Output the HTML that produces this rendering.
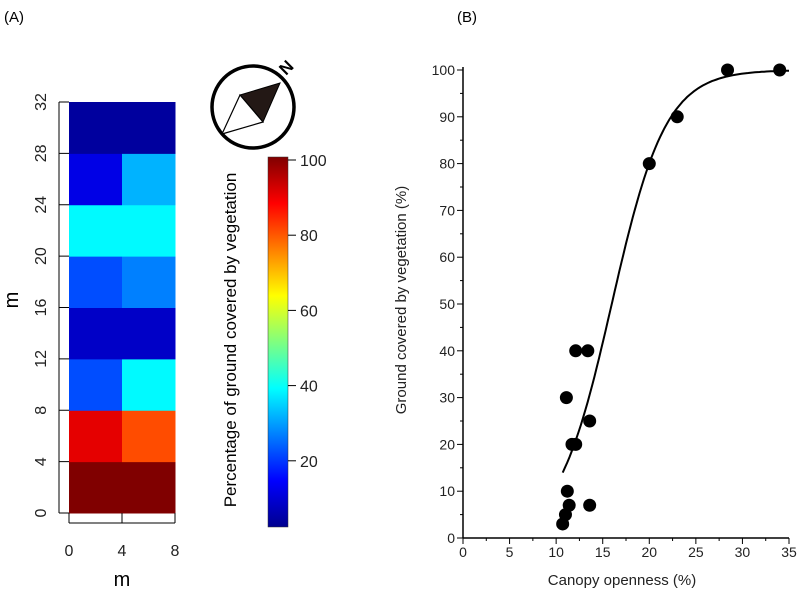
<!DOCTYPE html>
<html><head><meta charset="utf-8"><style>
body{margin:0;background:#fff}
svg{display:block;font-family:"Liberation Sans",sans-serif}
</style></head><body>
<svg width="800" height="596" viewBox="0 0 800 596">
<defs>
<linearGradient id="jet" x1="0" y1="1" x2="0" y2="0">
<stop offset="0" stop-color="#00008f"/><stop offset="0.125" stop-color="#0000ff"/><stop offset="0.375" stop-color="#00ffff"/><stop offset="0.625" stop-color="#ffff00"/><stop offset="0.875" stop-color="#ff0000"/><stop offset="1" stop-color="#800000"/>
</linearGradient>
</defs>
<text x="4" y="22" font-size="15">(A)</text>
<text x="457" y="22" font-size="15">(B)</text>
<g id="heat"></g>
<g id="compass">
<circle cx="253" cy="107" r="41" fill="none" stroke="#000" stroke-width="3.5"/>
<polygon points="280,83 240,95 263,122" fill="#231815" stroke="#000" stroke-width="1"/>
<polygon points="240,95 263,122 222,134" fill="#fff" stroke="#000" stroke-width="1.2"/>
<text x="0" y="0" font-size="17" font-weight="bold" transform="translate(286,76) rotate(-45)">N</text>
</g>
<rect x="268" y="157" width="20" height="370" fill="url(#jet)" stroke="#333" stroke-width="0.5"/>
<g id="cbticks"></g>
<text transform="translate(236,340) rotate(-90)" text-anchor="middle" font-size="17">Percentage of ground covered by vegetation</text>
<g id="scatter"></g>
</svg>
<script>
const NS='http://www.w3.org/2000/svg';
function mk(p,t,a,txt){const e=document.createElementNS(NS,t);for(const k in a)e.setAttribute(k,a[k]);if(txt!==undefined)e.textContent=txt;p.appendChild(e);return e;}
// heatmap data (rows bottom->top, columns left->right)
const rowLabels=[0,4,8,12,16,20,24,28,32];
const colLabels=[0,4,8];
const heatCol0=[100,90,20,7,20,37,10,3];
const heatCol1=[100,80,37,7,25,37,30,3];
const cbTicks=[20,40,60,80,100];
// scatter data
const canopy=[10.7,11.0,11.2,11.4,11.1,11.7,12.1,12.1,13.4,13.6,13.6,20.0,23.0,28.4,34.0];
const cover=[3,5,10,7,30,20,20,40,40,25,7,80,90,100,100];
const xTicks=[0,5,10,15,20,25,30,35];
const yTicks=[0,10,20,30,40,50,60,70,80,90,100];
const fitX0=15.97, fitK=2.9, fitStart=10.7, fitEnd=35;

function jet(v){const t=v/100;const c=x=>Math.max(0,Math.min(1,x));
 const r=c(Math.min(4*t-1.5,-4*t+4.5)),g=c(Math.min(4*t-0.5,-4*t+3.5)),b=c(Math.min(4*t+0.5,-4*t+2.5));
 return `rgb(${Math.round(r*255)},${Math.round(g*255)},${Math.round(b*255)})`;}
const hx=v=>69+(v/8)*106, hy=v=>513-(v/32)*411;
const H=document.getElementById('heat');
[heatCol0,heatCol1].forEach((col,ci)=>col.forEach((v,ri)=>{
 const r=mk(H,'rect',{x:hx(ci*4),y:hy((ri+1)*4),width:hx(4)-hx(0)+0.5,height:hy(0)-hy(4)+0.5,fill:jet(v)});
 
 
}));
mk(H,'line',{x1:59,y1:hy(0),x2:59,y2:hy(32),stroke:'#000'});
rowLabels.forEach(v=>{mk(H,'line',{x1:59,y1:hy(v),x2:69,y2:hy(v),stroke:'#000'});
 const t=mk(H,'text',{transform:`translate(46,${hy(v)}) rotate(-90)`,'text-anchor':'middle','font-size':'16',fill:'#222'},String(v));
 
 });
mk(H,'line',{x1:hx(0),y1:523,x2:hx(8),y2:523,stroke:'#000'});
colLabels.forEach(v=>{mk(H,'line',{x1:hx(v),y1:513,x2:hx(v),y2:523,stroke:'#000'});
 const t=mk(H,'text',{x:hx(v),y:556,'text-anchor':'middle','font-size':'16',fill:'#222'},String(v));
 
 });
let t1=mk(H,'text',{x:122,y:586,'text-anchor':'middle','font-size':'20'},'m');


let t2=mk(H,'text',{transform:'translate(18,300) rotate(-90)','text-anchor':'middle','font-size':'20'},'m');


const cby=v=>160+(100-v)*3.76;
const CB=document.getElementById('cbticks');
cbTicks.forEach(v=>{mk(CB,'line',{x1:288,y1:cby(v),x2:296,y2:cby(v),stroke:'#000'});
 const t=mk(CB,'text',{x:300,y:cby(v)+6,'font-size':'16',fill:'#222'},String(v));
 
 });
const sx=v=>463+v*(326/35), sy=v=>538-v*4.68;
const S=document.getElementById('scatter');
mk(S,'line',{x1:463,y1:sy(0),x2:463,y2:sy(100)-3,stroke:'#000','stroke-width':1.5});
mk(S,'line',{x1:463,y1:538,x2:sx(35),y2:538,stroke:'#000','stroke-width':1.5});
yTicks.forEach(v=>{mk(S,'line',{x1:457,y1:sy(v),x2:463,y2:sy(v),stroke:'#000'});
 if(v<100)mk(S,'line',{x1:460,y1:sy(v+5),x2:463,y2:sy(v+5),stroke:'#000'});
 const t=mk(S,'text',{x:455,y:sy(v)+5,'text-anchor':'end','font-size':'14',fill:'#222'},String(v));
 
 });
xTicks.forEach(v=>{mk(S,'line',{x1:sx(v),y1:538,x2:sx(v),y2:544,stroke:'#000'});
 if(v<35)mk(S,'line',{x1:sx(v+2.5),y1:538,x2:sx(v+2.5),y2:541,stroke:'#000'});
 const t=mk(S,'text',{x:sx(v),y:557,'text-anchor':'middle','font-size':'14',fill:'#222'},String(v));
 
 });
let t3=mk(S,'text',{x:622,y:585,'text-anchor':'middle','font-size':'15',fill:'#222'},'Canopy openness (%)');


let t4=mk(S,'text',{transform:'translate(406,300) rotate(-90)','text-anchor':'middle','font-size':'15',fill:'#222'},'Ground covered by vegetation (%)');


let d='';for(let i=0;i<=100;i++){const x=fitStart+(fitEnd-fitStart)*i/100;const y=100/(1+Math.exp(-(x-fitX0)/fitK));d+=(i?'L':'M')+sx(x).toFixed(1)+','+sy(y).toFixed(1);}
const fl=mk(S,'path',{d:d,fill:'none',stroke:'#000','stroke-width':2});


canopy.forEach((x,i)=>{const c=mk(S,'circle',{cx:sx(x),cy:sy(cover[i]),r:6.5,fill:'#000'});
 
 });
</script>
</body></html>
